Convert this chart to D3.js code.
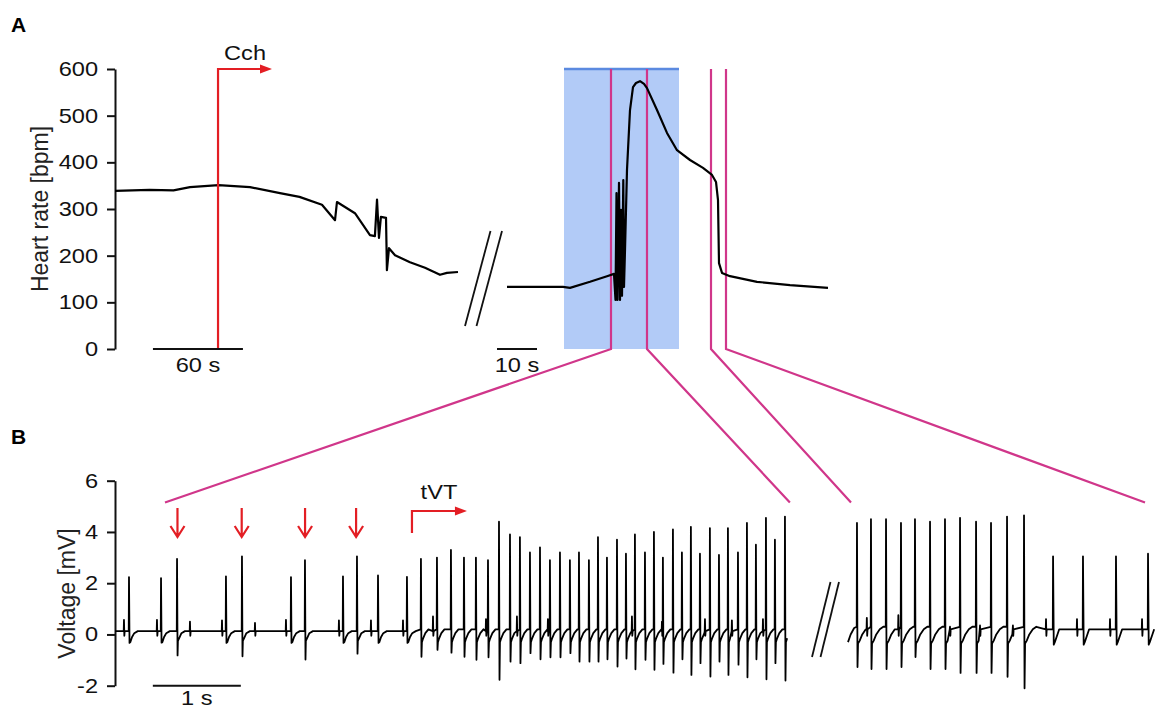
<!DOCTYPE html>
<html>
<head>
<meta charset="utf-8">
<script src="https://cdn.jsdelivr.net/npm/d3@7"></script>
<style>
  body { margin: 0; background: #fff; }
  svg { font-family: "Liberation Sans", Arial, sans-serif; }
</style>
</head>
<body>
<script>
// ---- panel A: heart rate, [time s, bpm] ----
const hrTicks = [0, 100, 200, 300, 400, 500, 600];
const hrBefore = [[0,339],[23,341],[39,340],[50,347],[69,351],[90,347],[110,334],[123,326],[138,309],
  [146.7,276],[148,315],[160,291],[170,244],[173.3,242],[174.7,320],[176,238],[177.3,283],[180.7,281],
  [181.3,169],[182.7,216],[186.7,201],[196.7,186],[206.7,174],[216.7,159],[221.3,163],[228.7,165]];
const hrCrisis = [[0,133],[14,133],[15.75,131],[20.75,144],[25,156],[26.75,161],
  [27.125,105],[27.375,334],[27.625,105],[28,356],[28.25,105],[28.5,298],[28.75,114],[29.075,362],
  [29.25,133],[29.5,212],[30,384],[30.75,512],[31.5,561],[32.25,570],[33.25,574],[34.25,568],[35,559],
  [37.5,512],[40,463],[42.5,426],[45.75,405],[49,388],[51.25,373],[52.25,358],[52.75,319],[53,184],
  [53.75,163],[55.75,156],[62.5,144],[70.75,137],[80.25,131]];
const cchTime = 68.7, cchArrowEnd = 104.7;
const barA1 = [25.3, 85.3];        // 60 s
const barA2 = [-2.5, 7.5];         // 10 s
const stimWindow = [14.25, 43];    // blue band
const zoomTop = [26, 35, 51, 54.75];

// ---- panel B: ECG ----
const mvTicks = [-2, 0, 2, 4, 6];
const base1 = 0.13, base2 = 0.2;
// small spikes [t s, peak mV]
const seg1P = [[0.102,0.57],[0.477,0.57],[0.852,0.5],[1.216,0.55],[1.591,0.45],[1.943,0.57],[2.545,0.55],
  [2.909,0.55],[3.273,0.55],[3.614,0.7],[4.216,0.6],[4.568,0.7],[4.92,0.6],[5.875,0.7],[6.216,0.5],
  [6.705,0.6],[7.011,0.55],[7.364,0.6]];
// sinus beats [t, peak, trough]
const seg1R = [[0.159,2.24,-0.33],[0.523,2.2,-0.32],[1.261,2.27,-0.33],[2.0,2.24,-0.33],[2.591,2.27,-0.33],
  [2.989,2.3,-0.33],[3.318,2.25,-0.33]];
// premature beats (arrows)
const seg1E = [[0.705,2.95,-0.82],[1.443,3.05,-0.85],[2.159,2.9,-0.98],[2.75,3.05,-0.75]];
// tVT beats
const seg1V = [[3.477,2.95,-0.87],[3.659,3.0,-0.6],[3.818,3.3,-0.71],[3.966,3.0,-0.87],[4.102,3.0,-0.99],
  [4.239,2.9,-0.89],[4.364,4.4,-1.77],[4.489,3.9,-1.06],[4.602,3.8,-1.12],[4.716,3.2,-0.73],[4.83,3.4,-0.97],
  [4.943,2.9,-0.89],[5.057,3.2,-0.89],[5.17,2.9,-0.73],[5.273,3.2,-1.06],[5.386,2.9,-1.06],[5.489,3.8,-1.06],
  [5.591,3.0,-0.97],[5.705,3.7,-1.25],[5.807,3.15,-0.94],[5.909,3.9,-1.36],[6.023,3.2,-0.99],[6.125,4.0,-1.38],
  [6.227,3.0,-1.15],[6.341,4.1,-1.49],[6.443,3.2,-0.97],[6.545,4.2,-1.58],[6.648,3.15,-1.12],[6.761,4.15,-1.64],
  [6.864,3.1,-1.06],[6.966,4.15,-1.58],[7.08,3.2,-1.18],[7.182,4.35,-1.67],[7.284,3.5,-0.97],[7.398,4.55,-1.75],
  [7.5,3.7,-1.12],[7.614,4.6,-1.8]];
const seg1End = 7.66;
const seg2P = [[0.214,0.65],[0.572,0.75],[1.159,0.3],[1.5,0.35],[1.874,0.35],[2.25,0.6],[2.602,0.6],
  [2.977,0.6],[3.341,0.6]];
const seg2V = [[0.102,4.35,-1.27],[0.261,4.5,-1.35],[0.432,4.5,-1.35],[0.602,4.35,-1.27],[0.761,4.5,-0.88],
  [0.932,4.4,-1.35],[1.102,4.5,-1.35],[1.273,4.55,-1.5],[1.455,4.4,-1.5],[1.625,4.35,-1.5],[1.807,4.6,-1.65],
  [2.0,4.65,-2.1]];
const seg2R = [[2.33,3.05,-0.4],[2.67,3.05,-0.4],[3.045,3.05,-0.4],[3.409,3.15,-0.4]];
const seg2Start = [[0,-0.3],[0.03,0.0],[0.07,0.25]];
const seg2End = 3.602;
const arrowTimes = [0.71, 1.44, 2.16, 2.74];
const tvtStart = 3.375, tvtArrowEnd = 4.0;
const barB = [0.43, 1.43];         // 1 s
const zoomBottom = [[1, 0.568], [1, 7.67], [2, 0.034], [2, 3.375]];

// waveform shapes [dt s, mV | 'b' baseline | 'pk' | 'tr']
const shapes1 = {
  p: [[-0.003,'b'],[0,'pk'],[0.004,-0.05],[0.008,'b']],
  r: [[-0.003,'b'],[0,'pk'],[0.006,'tr'],[0.015,-0.3],[0.035,-0.1],[0.06,0.05],[0.1,'b']],
  e: [[-0.003,'b'],[0,'pk'],[0.006,'tr'],[0.01,-0.25],[0.03,-0.1],[0.05,0.05],[0.09,'b']],
  v: [[-0.003,0.2],[0,'pk'],[0.006,'tr'],[0.011,-0.3],[0.025,-0.15],[0.05,0.05],[0.085,0.2]]
};
const shapes2 = {
  p: [[-0.003,'b'],[0,'pk'],[0.004,-0.05],[0.008,'b']],
  r: [[-0.003,'b'],[0,'pk'],[0.004,1.3],[0.008,'tr'],[0.02,-0.3],[0.045,-0.05],[0.07,'b']],
  v: [[-0.003,0.3],[0,'pk'],[0.006,'tr'],[0.012,-0.35],[0.03,-0.25],[0.06,0.0],[0.1,0.2],[0.14,0.3]]
};

function buildTrace(groups, shapes, base, start, end) {
  let beats = [];
  Object.keys(groups).forEach(k => groups[k].forEach(b => beats.push({ t: b[0], k: k, pk: b[1], tr: b[2] })));
  beats.sort((a, b) => a.t - b.t);
  let pts = start.slice();
  beats.forEach((b, i) => {
    const nb = beats[i + 1];
    const limit = nb ? nb.t + shapes[nb.k][0][0] : end;
    shapes[b.k].forEach(([dt, v]) => {
      const t = b.t + dt;
      if (t >= limit) return;
      pts.push([t, v === 'b' ? base : v === 'pk' ? b.pk : v === 'tr' ? b.tr : v]);
    });
  });
  return pts;
}

const ecg1 = buildTrace({ p: seg1P, r: seg1R, e: seg1E, v: seg1V }, shapes1, base1, [[0, base1]], seg1End);
const ecg2 = buildTrace({ p: seg2P, r: seg2R, v: seg2V }, shapes2, base2, seg2Start, seg2End);

// ---- drawing ----
const W = 1165, H = 711;
const svg = d3.select('body').append('svg').attr('width', W).attr('height', H);

const red = '#e31e24', magenta = '#d0368a';
const SX = 1.18;

const yA = d3.scaleLinear().domain([0, 600]).range([349, 69]);
const xL = d3.scaleLinear().domain([0, 228.7]).range([115, 458]);
const xR = d3.scaleLinear().domain([0, 80.25]).range([507, 828]);
const yB = d3.scaleLinear().domain([-2, 6]).range([685.7, 480.7]);
const xB1 = d3.scaleLinear().domain([0, seg1End]).range([115, 789]);
const xB2 = d3.scaleLinear().domain([0, seg2End]).range([848, 1165]);

function label(x, y, s, size, anchor) {
  return svg.append('text')
    .attr('transform', `translate(${x},${y}) scale(${SX},1)`)
    .attr('text-anchor', anchor || 'middle')
    .attr('font-size', size)
    .attr('fill', '#111')
    .text(s);
}

function styleAxis(g) {
  g.attr('font-family', null).attr('font-size', null);
  g.select('.domain').attr('stroke', '#111').attr('stroke-width', 2);
  g.selectAll('.tick line').attr('stroke', '#111').attr('stroke-width', 2);
  g.selectAll('.tick text')
    .attr('font-size', 20).attr('fill', '#111')
    .attr('x', -17 / SX).attr('transform', `scale(${SX},1)`);
}

// stimulation window
svg.append('rect')
  .attr('x', xR(stimWindow[0])).attr('y', yA(600))
  .attr('width', xR(stimWindow[1]) - xR(stimWindow[0]))
  .attr('height', yA(0) - yA(600))
  .attr('fill', '#b2cbf7');
svg.append('line')
  .attr('x1', xR(stimWindow[0])).attr('x2', xR(stimWindow[1]))
  .attr('y1', yA(600)).attr('y2', yA(600))
  .attr('stroke', '#5b8ae0').attr('stroke-width', 2.5);

// zoom lines A -> B
const bottomY = 502.5;
zoomTop.forEach((t, i) => {
  const zb = zoomBottom[i];
  const bx = zb[0] === 1 ? xB1(zb[1]) : xB2(zb[1]);
  svg.append('path')
    .attr('d', `M${xR(t)},${yA(600)}V${yA(0)}L${bx},${bottomY}`)
    .attr('fill', 'none').attr('stroke', magenta).attr('stroke-width', 2.2);
});

// axes
const fmt = d => String(d);
const axA = svg.append('g').attr('transform', 'translate(115,0)')
  .call(d3.axisLeft(yA).tickValues(hrTicks).tickFormat(fmt).tickSize(8).tickSizeOuter(0).tickPadding(9));
styleAxis(axA);
const axB = svg.append('g').attr('transform', 'translate(115,0)')
  .call(d3.axisLeft(yB).tickValues(mvTicks).tickFormat(fmt).tickSize(8).tickSizeOuter(0).tickPadding(9));
styleAxis(axB);

svg.append('text')
  .attr('transform', `translate(48,${yA(300)}) rotate(-90)`)
  .attr('text-anchor', 'middle').attr('font-size', 23).attr('fill', '#222')
  .text('Heart rate [bpm]');
svg.append('text')
  .attr('transform', `translate(75,${yB(1.6)}) rotate(-90)`)
  .attr('text-anchor', 'middle').attr('font-size', 23).attr('fill', '#222')
  .text('Voltage [mV]');

svg.append('text').attr('x', 11).attr('y', 32).attr('font-size', 21).attr('font-weight', 'bold').text('A');
svg.append('text').attr('x', 11).attr('y', 444).attr('font-size', 21).attr('font-weight', 'bold').text('B');

// heart rate traces
const lineL = d3.line().x(d => xL(d[0])).y(d => yA(d[1]));
const lineR = d3.line().x(d => xR(d[0])).y(d => yA(d[1]));
svg.append('path').datum(hrBefore).attr('d', lineL)
  .attr('fill', 'none').attr('stroke', '#000').attr('stroke-width', 2.2).attr('stroke-linejoin', 'round');
svg.append('path').datum(hrCrisis).attr('d', lineR)
  .attr('fill', 'none').attr('stroke', '#000').attr('stroke-width', 2.2).attr('stroke-linejoin', 'round');

// Cch arrow
svg.append('path')
  .attr('d', `M${xL(cchTime)},${yA(0)}V${yA(600)}H${xL(cchArrowEnd) - 10}`)
  .attr('fill', 'none').attr('stroke', red).attr('stroke-width', 2.2);
svg.append('path')
  .attr('d', `M${xL(cchArrowEnd)},${yA(600)}l-12,-4.5v9z`).attr('fill', red);
label(xL(cchTime) + 27, 60, 'Cch', 20);

// scale bars A
svg.append('line').attr('x1', xL(barA1[0])).attr('x2', xL(barA1[1])).attr('y1', yA(0)).attr('y2', yA(0))
  .attr('stroke', '#111').attr('stroke-width', 2);
label((xL(barA1[0]) + xL(barA1[1])) / 2, 372, '60 s', 20);
svg.append('line').attr('x1', xR(barA2[0])).attr('x2', xR(barA2[1])).attr('y1', yA(0)).attr('y2', yA(0))
  .attr('stroke', '#111').attr('stroke-width', 2);
label((xR(barA2[0]) + xR(barA2[1])) / 2, 372, '10 s', 20);

// break marks
const brk = svg.append('g').attr('stroke', '#111').attr('stroke-width', 1.8);
brk.append('line').attr('x1', 465).attr('y1', 326).attr('x2', 490.5).attr('y2', 231);
brk.append('line').attr('x1', 476.5).attr('y1', 326).attr('x2', 502).attr('y2', 231);
brk.append('line').attr('x1', 812).attr('y1', 657).attr('x2', 830.5).attr('y2', 582);
brk.append('line').attr('x1', 820.5).attr('y1', 657).attr('x2', 839).attr('y2', 582);

// ECG traces
const lineB1 = d3.line().x(d => xB1(d[0])).y(d => yB(d[1]));
const lineB2 = d3.line().x(d => xB2(d[0])).y(d => yB(d[1]));
svg.append('path').datum(ecg1).attr('d', lineB1)
  .attr('fill', 'none').attr('stroke', '#000').attr('stroke-width', 1.8).attr('stroke-linejoin', 'round');
svg.append('path').datum(ecg2).attr('d', lineB2)
  .attr('fill', 'none').attr('stroke', '#000').attr('stroke-width', 1.8).attr('stroke-linejoin', 'round');

// red arrows over premature beats
arrowTimes.forEach(t => {
  const x = xB1(t);
  svg.append('path')
    .attr('d', `M${x},508V537M${x - 7},526L${x},537L${x + 7},526`)
    .attr('fill', 'none').attr('stroke', red).attr('stroke-width', 2.2);
});

// tVT arrow
svg.append('path')
  .attr('d', `M${xB1(tvtStart)},533V511H${xB1(tvtArrowEnd) - 10}`)
  .attr('fill', 'none').attr('stroke', red).attr('stroke-width', 2.2);
svg.append('path')
  .attr('d', `M${xB1(tvtArrowEnd)},511l-12,-4.5v9z`).attr('fill', red);
label(xB1(tvtStart) + 27, 499, 'tVT', 20);

// 1 s scale bar
svg.append('line').attr('x1', xB1(barB[0])).attr('x2', xB1(barB[1])).attr('y1', yB(-2)).attr('y2', yB(-2))
  .attr('stroke', '#111').attr('stroke-width', 2);
label((xB1(barB[0]) + xB1(barB[1])) / 2, 705, '1 s', 20);
</script>
</body>
</html>
